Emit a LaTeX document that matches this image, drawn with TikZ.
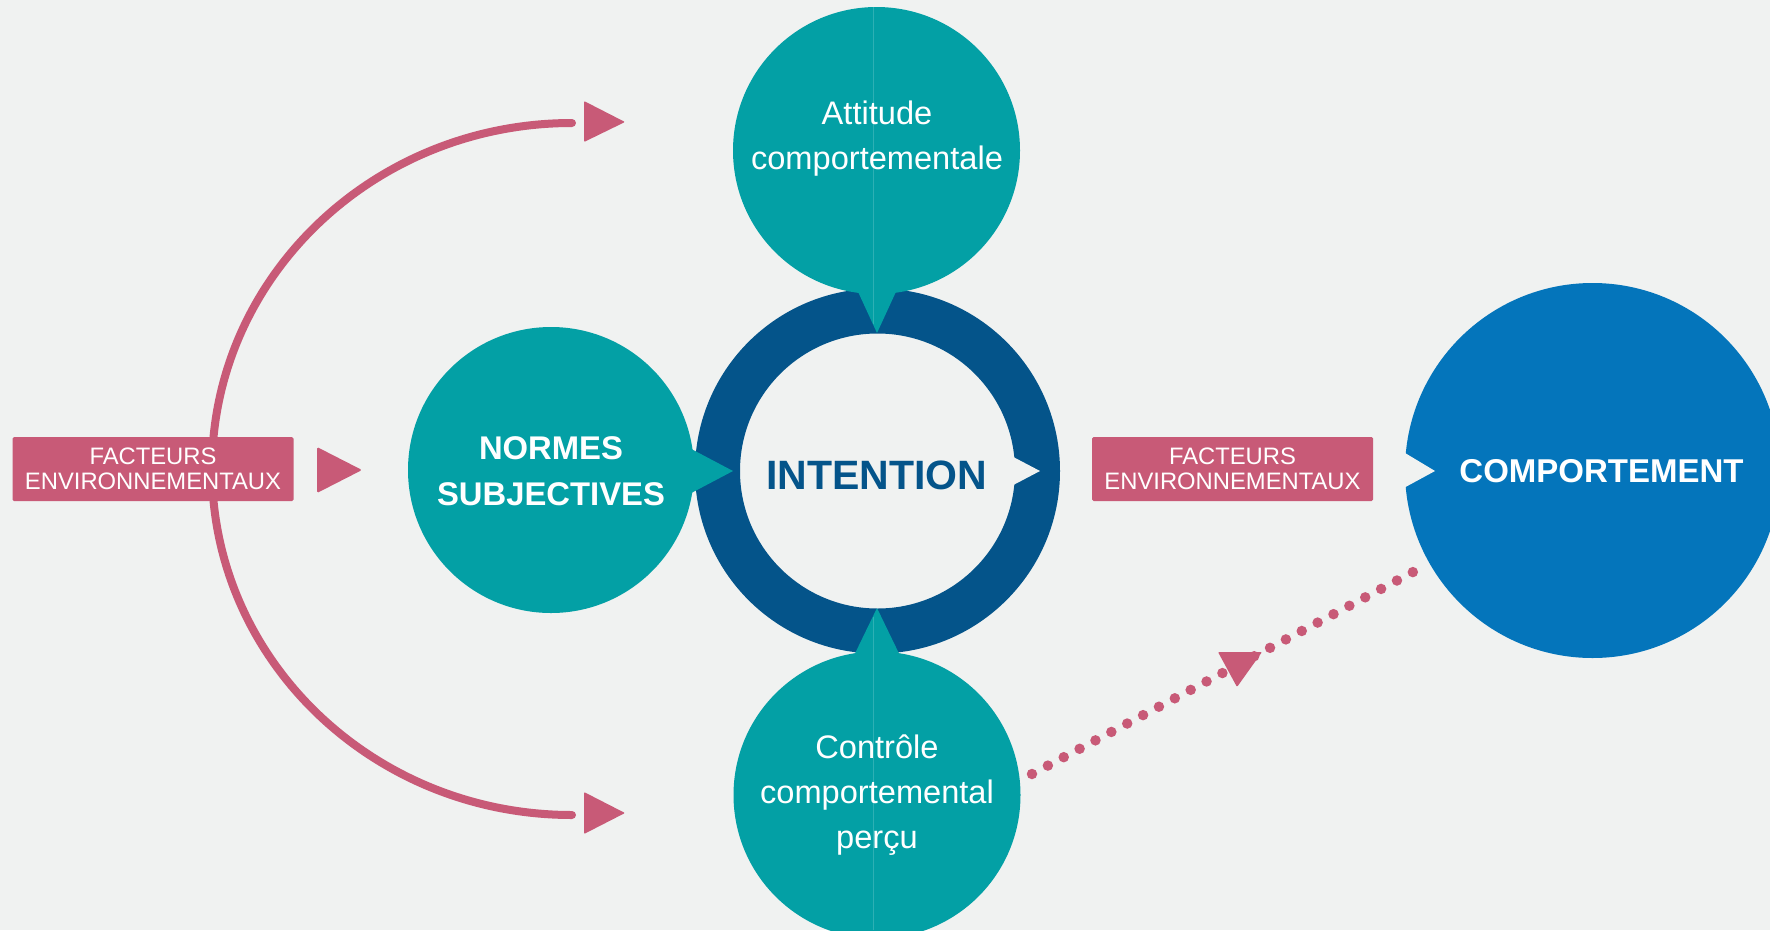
\documentclass[tikz,border=0pt]{standalone}
\usepackage{fontspec}
\setmainfont{Liberation Sans}
\usepackage{xcolor}
\definecolor{bgc}{HTML}{F0F2F1}
\definecolor{tealc}{HTML}{03A0A5}
\definecolor{ringc}{HTML}{04548A}
\definecolor{bluec}{HTML}{0475BB}
\definecolor{pinkc}{HTML}{C85A77}
\definecolor{seamc}{HTML}{2DB0B4}

\begin{document}
\begin{tikzpicture}[x=1pt,y=-1pt,
    wtxt/.style={text=white,align=center,inner sep=0pt,font=\fontsize{32.6}{45}\selectfont},
    btxt/.style={text=white,align=center,inner sep=0pt,font=\bfseries\fontsize{32.8}{46}\selectfont},
    factbox/.style={fill=pinkc,rounded corners=1.5pt,minimum width=281pt,minimum height=64pt,inner sep=0pt,
        text=white,align=center,font=\fontsize{23.8}{25}\selectfont}]
        \useasboundingbox (0,0) rectangle (1770,930);
        \fill[bgc] (0,0) rectangle (1770,930);
        \clip (0,0) rectangle (1770,930);
        \coordinate (arcT) at (572,123);
        \draw[pinkc,line width=8pt,line cap=round] (arcT) arc[start angle=90,end angle=270,x radius=360pt,y radius=346pt] coordinate (arcB);
        \fill[pinkc,rounded corners=1pt] (584,101) -- (625,122) -- (584,142) -- cycle;
        \fill[pinkc,rounded corners=1pt] (584,792) -- (625,813) -- (584,834) -- cycle;
        \node[factbox] (fe1) at (153,469) {FACTEURS\\ENVIRONNEMENTAUX};
        \fill[pinkc,rounded corners=1.5pt] (317,447) -- (362,470) -- (317,493) -- cycle;
        \fill[ringc,even odd rule] (877.5,471) circle[radius=182.5pt] (877.5,471) circle[radius=137.5pt];
        \fill[tealc] (551,470) circle[radius=143pt];
        \fill[tealc] (680,443) -- (733,471) -- (680,499) -- cycle;
        \fill[tealc] (876.5,150.5) circle[radius=143.5pt];
        \fill[tealc] (848,270) -- (877,333) -- (906,270) -- cycle;
        \fill[tealc] (877,795) circle[radius=143.5pt];
        \fill[tealc] (847,670) -- (877,608) -- (907,670) -- cycle;
        \fill[bgc] (1000,450) -- (1040,471) -- (1000,492) -- cycle;
        \draw[seamc,line width=0.8pt] (873,7) -- (873,324);
        \draw[seamc,line width=0.8pt] (873,617) -- (873,930);
        \node[wtxt] (att) at (877,139) {Attitude\\comportementale};
        \node[btxt] (norm) at (551,471) {NORMES\\SUBJECTIVES};
        \node[wtxt] (ctrl) at (877,795) {Contrôle\\comportemental\\perçu};
        \node[text=ringc,inner sep=0pt,font=\bfseries\fontsize{41}{41}\selectfont] (int) at (877,475) {INTENTION};
        \node[factbox] (fe2) at (1232.5,469) {FACTEURS\\ENVIRONNEMENTAUX};
        \fill[bluec] (1592.5,470.5) circle[radius=187.5pt];
        \fill[bgc] (1400,450) -- (1435,471) -- (1400,490) -- cycle;
        \node[text=white,inner sep=0pt,font=\bfseries\fontsize{33}{33}\selectfont] (comp) at (1601.5,471.5) {COMPORTEMENT};
        \coordinate (dA) at (1032,774);
        \coordinate (dB) at (1413,572);
        \draw[pinkc,line width=10.5pt,line cap=round,dash pattern=on 0pt off 17.96pt] (dA) -- (dB);
        \fill[pinkc,rounded corners=1pt] (1218,652) -- (1262,652) -- (1237,687) -- cycle;
    \end{tikzpicture}
\end{document}
